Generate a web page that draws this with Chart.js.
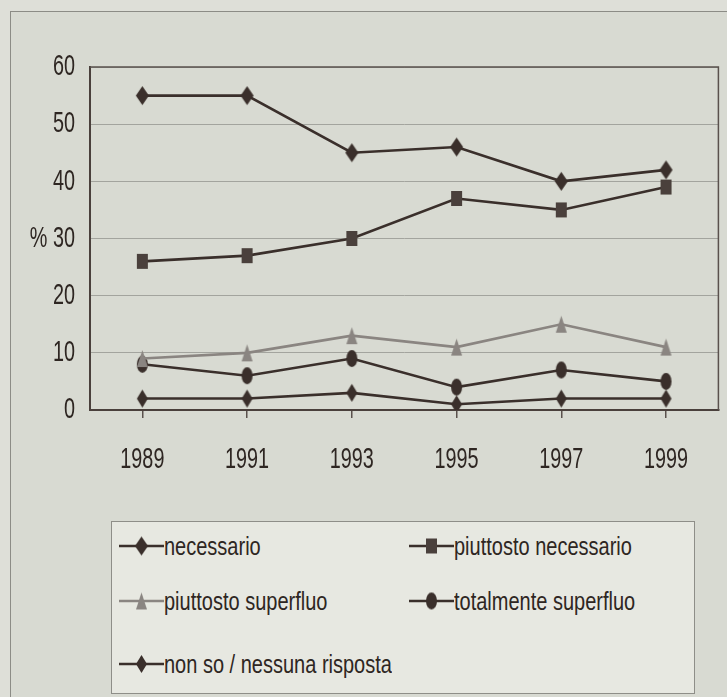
<!DOCTYPE html>
<html>
<head>
<meta charset="utf-8">
<script src="https://cdn.jsdelivr.net/npm/chart.js@4"></script>
<style>
  html, body { margin: 0; padding: 0; background: #dedfd8; }
  #wrap { position: relative; width: 727px; height: 697px; overflow: hidden; }
  #frame { position: absolute; left: 10px; top: 11px; width: 730px; height: 700px;
           border-left: 1px solid #8c8c86; border-top: 1px solid #8c8c86; background: #d8dad2; }
  #chart { position: absolute; left: 0; top: 0; }
  #legend { position: absolute; left: 111px; top: 521px; width: 582px; height: 171px;
            background: #e7e8e1; border: 1px solid #8e8e88; }
  .item { position: absolute; height: 30px; display: flex; align-items: center;
          font-family: "Liberation Sans", Arial, sans-serif;
          font-size: 25px; color: #2e2622; white-space: nowrap; }
  .item span { display: inline-block; transform: scaleX(0.8); transform-origin: left center; }
</style>
</head>
<body>
<div id="wrap">
  <div id="frame"></div>
  <canvas id="chart" width="727" height="697"></canvas>
  <div id="legend"></div>
</div>
<script>
var years = ['1989', '1991', '1993', '1995', '1997', '1999'];
var necessario = [55, 55, 45, 46, 40, 42];
var piuttostoNecessario = [26, 27, 30, 37, 35, 39];
var piuttostoSuperfluo = [9, 10, 13, 11, 15, 11];
var totalmenteSuperfluo = [8, 6, 9, 4, 7, 5];
var nonSo = [2, 2, 3, 1, 2, 2];
var seriesNames = ['necessario', 'piuttosto necessario', 'piuttosto superfluo',
                   'totalmente superfluo', 'non so / nessuna risposta'];

var dark = '#3a2f2b';
var grey = '#8a8581';
var textColor = '#2e2622';

// marker images (the scanned markers are taller than wide)
function makeMarker(shape, w, h, color) {
    var c = document.createElement('canvas');
    c.width = w + 2;
    c.height = h + 2;
    var g = c.getContext('2d');
    g.fillStyle = color;
    g.beginPath();
    var cx = c.width / 2, cy = c.height / 2;
    if (shape === 'diamond') {
        g.moveTo(cx, cy - h / 2);
        g.lineTo(cx + w / 2, cy);
        g.lineTo(cx, cy + h / 2);
        g.lineTo(cx - w / 2, cy);
        g.closePath();
    } else if (shape === 'square') {
        g.rect(cx - w / 2, cy - h / 2, w, h);
    } else if (shape === 'triangle') {
        g.moveTo(cx, cy - h / 2);
        g.lineTo(cx + w / 2, cy + h / 2);
        g.lineTo(cx - w / 2, cy + h / 2);
        g.closePath();
    } else {
        g.ellipse(cx, cy, w / 2, h / 2, 0, 0, Math.PI * 2);
    }
    g.fill();
    return c;
}

var markers = [
    makeMarker('diamond', 13, 19, dark),
    makeMarker('square', 11, 15, '#4a403c'),
    makeMarker('triangle', 11, 17, grey),
    makeMarker('ellipse', 11, 17, dark),
    makeMarker('diamond', 11, 18, dark)
];
var lineColors = [dark, dark, grey, dark, dark];
var values = [necessario, piuttostoNecessario, piuttostoSuperfluo, totalmenteSuperfluo, nonSo];

var datasets = values.map(function (v, i) {
    return {
        label: seriesNames[i],
        data: v,
        borderColor: lineColors[i],
        backgroundColor: lineColors[i],
        borderWidth: 2.6,
        pointStyle: markers[i],
        pointRadius: 6,
        tension: 0
    };
});

// dark box round the plot area
var plotBox = {
    id: 'plotBox',
    beforeDatasetsDraw: function (chart) {
        var a = chart.chartArea, c = chart.ctx;
        c.save();
        c.strokeStyle = '#5a514d';
        c.lineWidth = 1.5;
        c.beginPath();
        c.moveTo(a.left, a.top);
        c.lineTo(a.right, a.top);
        c.lineTo(a.right, a.bottom);
        c.stroke();
        c.restore();
    }
};

// tick labels in a condensed face: the scan uses a narrow font
function narrowText(c, text, x, y, align) {
    c.save();
    c.translate(x, y);
    c.scale(0.66, 1);
    c.textAlign = align;
    c.textBaseline = 'middle';
    c.fillText(text, 0, 0);
    c.restore();
}
var narrowTicks = {
    id: 'narrowTicks',
    afterDraw: function (chart) {
        var c = chart.ctx;
        var xs = chart.scales.x, ys = chart.scales.y;
        c.save();
        c.font = '30px "Liberation Sans", Arial, sans-serif';
        c.fillStyle = textColor;
        xs.ticks.forEach(function (t, i) {
            narrowText(c, String(t.label), xs.getPixelForTick(i), ys.bottom + 50, 'center');
        });
        ys.ticks.forEach(function (t) {
            narrowText(c, String(t.label), xs.left - 15, ys.getPixelForValue(t.value), 'right');
        });
        c.restore();
    }
};

var chart = new Chart(document.getElementById('chart'), {
    type: 'line',
    data: { labels: years, datasets: datasets },
    plugins: [plotBox, narrowTicks],
    options: {
        responsive: false,
        animation: false,
        layout: { padding: { left: 0, top: 67, right: 8, bottom: 217 } },
        plugins: { legend: { display: false }, tooltip: { enabled: false } },
        scales: {
            x: {
                offset: true,
                afterFit: function (s) { s.height = 70; },
                grid: { drawOnChartArea: false, drawTicks: true, tickLength: 8, color: '#5a514d', lineWidth: 1.5 },
                border: { color: '#4a403c', width: 2 },
                ticks: { display: false }
            },
            y: {
                min: 0, max: 60,
                afterFit: function (s) { s.width = 90; },
                grid: { drawTicks: false, color: '#a3a49e', lineWidth: 1 },
                border: { color: '#4a403c', width: 2 },
                ticks: {
                    display: false,
                    stepSize: 10,
                    callback: function (v) { return v === 30 ? '% 30' : v; }
                }
            }
        }
    }
});

// legend in two columns, built from the chart's datasets
var legend = document.getElementById('legend');
var slots = [[7, 9], [297, 9], [7, 64], [297, 64], [7, 127]];
chart.data.datasets.forEach(function (ds, i) {
    var item = document.createElement('div');
    item.className = 'item';
    item.style.left = slots[i][0] + 'px';
    item.style.top = slots[i][1] + 'px';
    var c = document.createElement('canvas');
    c.width = 45;
    c.height = 24;
    var g = c.getContext('2d');
    g.strokeStyle = ds.borderColor;
    g.lineWidth = 2.6;
    g.beginPath();
    g.moveTo(0, 12);
    g.lineTo(45, 12);
    g.stroke();
    var m = ds.pointStyle;
    g.drawImage(m, 22.5 - m.width / 2, 12 - m.height / 2);
    item.appendChild(c);
    var t = document.createElement('span');
    t.textContent = ds.label;
    item.appendChild(t);
    legend.appendChild(item);
});
</script>
</body>
</html>
